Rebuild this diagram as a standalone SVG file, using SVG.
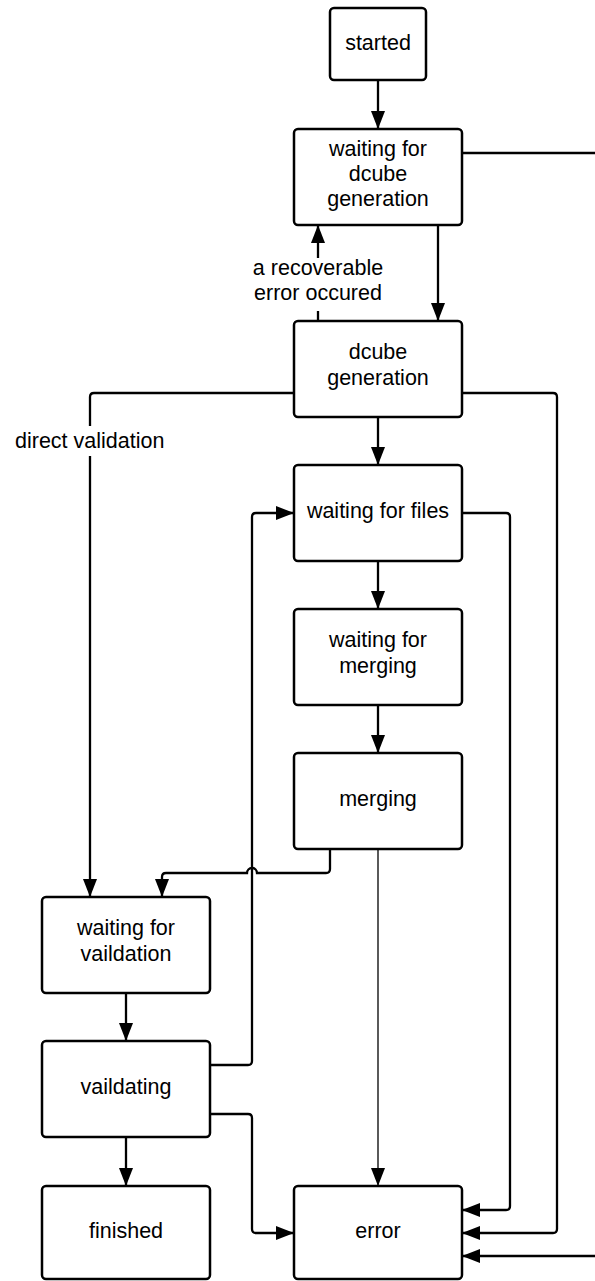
<svg xmlns="http://www.w3.org/2000/svg" width="595" height="1281" viewBox="0 0 595 1281">
  <style>
    .box { fill: #ffffff; stroke: #000000; stroke-width: 2.5; }
    .lbl { font-family: "Liberation Sans", Arial, Helvetica, sans-serif; font-size: 21.5px; fill: #000000; text-anchor: middle; }
    .edge { fill: none; stroke: #000000; stroke-width: 2.3; }
    .thin { stroke-width: 1.3; }
    .note { font-family: "Liberation Sans", Arial, Helvetica, sans-serif; font-size: 21.5px; fill: #000000; }
  </style>
  <defs>
    <marker id="arrow" markerUnits="userSpaceOnUse" markerWidth="19" markerHeight="15" refX="18" refY="7" orient="auto">
      <path d="M0,0 L18,7 L0,14 z" fill="#000000"/>
    </marker>
  </defs>
  <rect width="595" height="1281" fill="#ffffff"/>

  <!-- connectors -->
  <g id="connectors">
    <path class="edge" d="M378,80 V129" marker-end="url(#arrow)"/>
    <path class="edge" d="M462,153 H595"/>
    <path class="edge" d="M595,1256 H462" marker-end="url(#arrow)"/>
    <path class="edge" d="M438,225 V321" marker-end="url(#arrow)"/>
    <path class="edge" d="M318,321 V311"/>
    <path class="edge" d="M318,258 V225" marker-end="url(#arrow)"/>
    <path class="edge" d="M378,417 V465" marker-end="url(#arrow)"/>
    <path class="edge" d="M294,393 H94 Q90,393 90,397 V426"/>
    <path class="edge" d="M90,456 V897" marker-end="url(#arrow)"/>
    <path class="edge" d="M462,393 H553 Q557,393 557,397 V1229 Q557,1233 553,1233 H462" marker-end="url(#arrow)"/>
    <path class="edge" d="M462,513 H506 Q510,513 510,517 V1206 Q510,1210 506,1210 H462" marker-end="url(#arrow)"/>
    <path class="edge" d="M378,561 V609" marker-end="url(#arrow)"/>
    <path class="edge" d="M378,705 V753" marker-end="url(#arrow)"/>
    <path class="edge thin" d="M378,849 V1186" marker-end="url(#arrow)"/>
    <path class="edge" d="M330,849 V869 Q330,873 326,873 H257 A5,5 0 0 0 247,873 H166 Q162,873 162,877 V897" marker-end="url(#arrow)"/>
    <path class="edge" d="M210,1065 H248 Q252,1065 252,1061 V517 Q252,513 256,513 H294" marker-end="url(#arrow)"/>
    <path class="edge" d="M126,993 V1041" marker-end="url(#arrow)"/>
    <path class="edge" d="M210,1114 H248 Q252,1114 252,1118 V1229 Q252,1233 256,1233 H294" marker-end="url(#arrow)"/>
    <path class="edge" d="M126,1137 V1186" marker-end="url(#arrow)"/>
    <text class="lbl"><tspan x="318" y="275">a recoverable</tspan><tspan x="318" y="300">error occured</tspan></text>
    <text class="note" x="15" y="448">direct validation</text>
  </g>

  <!-- states -->
  <g id="started">
    <rect class="box" x="330" y="8" width="96" height="72" rx="4"/>
    <text class="lbl" x="378" y="49.5">started</text>
  </g>
  <g id="waiting-dcube">
    <rect class="box" x="294" y="129" width="168" height="96" rx="4"/>
    <text class="lbl"><tspan x="378" y="156">waiting for</tspan><tspan x="378" y="181">dcube</tspan><tspan x="378" y="206">generation</tspan></text>
  </g>
  <g id="dcube-generation">
    <rect class="box" x="294" y="321" width="168" height="96" rx="4"/>
    <text class="lbl"><tspan x="378" y="359">dcube</tspan><tspan x="378" y="385">generation</tspan></text>
  </g>
  <g id="waiting-files">
    <rect class="box" x="294" y="465" width="168" height="96" rx="4"/>
    <text class="lbl" x="378" y="518">waiting for files</text>
  </g>
  <g id="waiting-merging">
    <rect class="box" x="294" y="609" width="168" height="96" rx="4"/>
    <text class="lbl"><tspan x="378" y="647">waiting for</tspan><tspan x="378" y="673">merging</tspan></text>
  </g>
  <g id="merging">
    <rect class="box" x="294" y="753" width="168" height="96" rx="4"/>
    <text class="lbl" x="378" y="806">merging</text>
  </g>
  <g id="waiting-validation">
    <rect class="box" x="42" y="897" width="168" height="96" rx="4"/>
    <text class="lbl"><tspan x="126" y="935">waiting for</tspan><tspan x="126" y="961">vaildation</tspan></text>
  </g>
  <g id="validating">
    <rect class="box" x="42" y="1041" width="168" height="96" rx="4"/>
    <text class="lbl" x="126" y="1094">vaildating</text>
  </g>
  <g id="finished">
    <rect class="box" x="42" y="1186" width="168" height="93" rx="4"/>
    <text class="lbl" x="126" y="1238">finished</text>
  </g>
  <g id="error">
    <rect class="box" x="294" y="1186" width="168" height="93" rx="4"/>
    <text class="lbl" x="378" y="1238">error</text>
  </g>
</svg>
